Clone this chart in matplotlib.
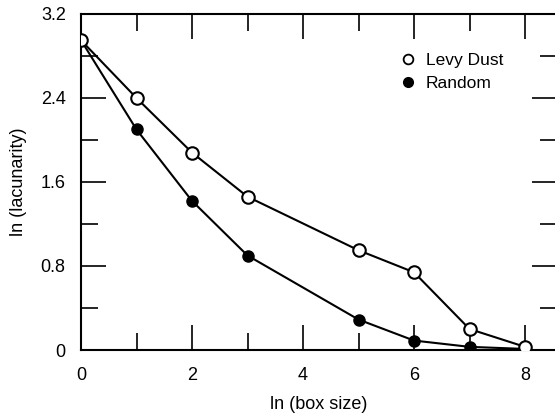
import matplotlib
matplotlib.use("Agg")
import matplotlib.pyplot as plt
from matplotlib.ticker import MultipleLocator
from matplotlib.lines import Line2D

plt.rcParams['font.family'] = ['Liberation Sans', 'DejaVu Sans']

box_size = [0, 1, 2, 3, 5, 6, 7, 8]
levy_dust = [2.95, 2.40, 1.88, 1.46, 0.95, 0.74, 0.20, 0.03]
random_vals = [2.95, 2.10, 1.42, 0.90, 0.29, 0.09, 0.03, 0.01]
y_ticks = [0, 0.8, 1.6, 2.4, 3.2]
y_tick_labels = ['0', '0.8', '1.6', '2.4', '3.2']

fig = plt.figure(figsize=(5.55, 4.15), dpi=100)
ax = fig.add_axes([81/555, 65/415, 476/555, 336/415])

ax.plot(box_size, random_vals, '-o', color='black', lw=1.5, ms=8,
        mfc='black', mec='black', label='Random', zorder=2)
ax.plot(box_size, levy_dust, '-o', color='black', lw=1.5, ms=9,
        mfc='white', mec='black', mew=1.5, label='Levy Dust', zorder=3)

ax.set_xlim(0, 476/55.5)
ax.set_ylim(0, 3.2)
ax.xaxis.set_major_locator(MultipleLocator(2))
ax.xaxis.set_minor_locator(MultipleLocator(1))
ax.set_yticks(y_ticks)
ax.set_yticklabels(y_tick_labels)
ax.yaxis.set_minor_locator(MultipleLocator(0.4))
ax.tick_params(which='both', direction='in', top=True, right=True,
               width=1.2, labelsize=13)
ax.tick_params(axis='x', which='both', pad=12)
ax.tick_params(axis='y', which='both', pad=11)
ax.tick_params(which='major', length=18)
ax.tick_params(which='minor', length=12)
for s in ax.spines.values():
    s.set_linewidth(1.5)

ax.set_xlabel('ln (box size)', fontsize=13, labelpad=9)
ax.set_ylabel('ln (lacunarity)', fontsize=13, labelpad=10)

hl = [Line2D([], [], ls='none', marker='o', ms=7, mfc='white', mec='black', mew=1.3),
      Line2D([], [], ls='none', marker='o', ms=7, mfc='black', mec='black')]
ax.legend(hl, ['Levy Dust', 'Random'], loc='upper left', bbox_to_anchor=(0.672, 0.885),
          frameon=False, fontsize=12.5, handlelength=0.8, handletextpad=0.65,
          labelspacing=0.45, borderaxespad=0, borderpad=0)

fig.savefig('out.png', dpi=100)
